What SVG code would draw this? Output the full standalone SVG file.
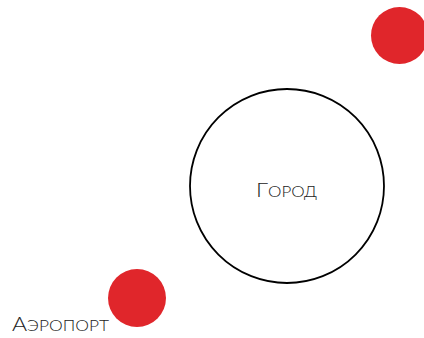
<svg xmlns="http://www.w3.org/2000/svg" width="424" height="338" viewBox="0 0 424 338">
<style>
.lbl{font-family:"Lato","Liberation Sans",sans-serif;font-weight:300;fill:#222}
.big{font-size:20px}
.sm{font-size:15px}
.dot{fill:#e0262b}
</style>
<rect width="424" height="338" fill="#fff"/>
<g id="city">
<circle cx="287" cy="186" r="97" fill="none" stroke="#000" stroke-width="1.8"/>
<text class="lbl" x="256" y="197" textLength="61" lengthAdjust="spacingAndGlyphs"><tspan class="big">Г</tspan><tspan class="sm">ОРОД</tspan></text>
</g>
<g id="point-top">
<circle class="dot" cx="399.5" cy="35.5" r="28.5"/>
</g>
<g id="airport">
<circle class="dot" cx="137" cy="298" r="29"/>
<text class="lbl" x="12" y="331" textLength="97" lengthAdjust="spacingAndGlyphs"><tspan class="big">А</tspan><tspan class="sm">ЭРОПОРТ</tspan></text>
</g>
<g id="connectors"/>
</svg>
